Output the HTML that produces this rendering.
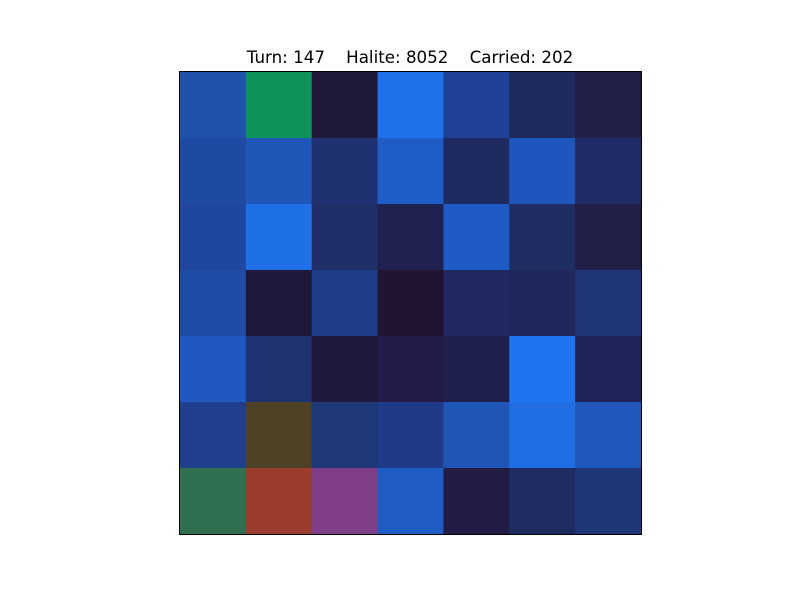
<!DOCTYPE html>
<html>
<head>
<meta charset="utf-8">
<style>
  html,body{margin:0;padding:0;background:#fff;}
  #wrap{position:relative;width:800px;height:600px;overflow:hidden;}
  #title{position:absolute;left:0;width:820px;top:47px;text-align:center;font-family:"DejaVu Sans","Liberation Sans",sans-serif;font-size:16.7px;color:#000;white-space:pre;}
</style>
</head>
<body>
<div id="wrap">
  <div id="title">Turn: 147    Halite: 8052    Carried: 202</div>
  <svg id="svg" width="800" height="600" style="position:absolute;left:0;top:0"></svg>
</div>
<script>
const row0 = ["#1f51ad","#10935a","#201838","#1f70eb","#1f4195","#1f2a5e","#201f48"];
const row1 = ["#1f4aa3","#1f57b8","#1f3170","#1f5dc6","#1f2a60","#1f56bd","#1f2c67"];
const row2 = ["#1f479f","#1f6fe6","#1f2e69","#1f2150","#1f5bc4","#1f2d63","#201f48"];
const row3 = ["#1f4ca6","#20183a","#1f3c88","#211432","#1f2860","#1f265a","#1f3577"];
const row4 = ["#1f58c0","#1f3373","#20183d","#201c47","#1f1f4e","#1f74f2","#1f2459"];
const row5 = ["#1f3f8d","#4f4126","#1f3878","#1f3b87","#1f56b6","#1f6ee4","#1f57bb"];
const row6 = ["#307050","#9a3d2c","#803d88","#1f5cc3","#201c44","#1f2b61","#1f3679"];
const rows = [row0,row1,row2,row3,row4,row5,row6];

const NS = "http://www.w3.org/2000/svg";
const svg = document.getElementById('svg');
const x0 = 180, y0 = 72, w = 461, h = 462;
const nCols = row0.length, nRows = rows.length;
function xScale(c){ return x0 + c * w / nCols; }
function yScale(r){ return y0 + r * h / nRows; }
rows.forEach((row, r) => {
  row.forEach((col, c) => {
    const rect = document.createElementNS(NS, 'rect');
    
    
    rect.setAttribute('x', xScale(c));
    rect.setAttribute('y', yScale(r));
    rect.setAttribute('width', xScale(c+1) - xScale(c) + 0.5);
    rect.setAttribute('height', yScale(r+1) - yScale(r) + 0.5);
    rect.setAttribute('fill', col);
    svg.appendChild(rect);
  });
});
const frame = document.createElementNS(NS, 'rect');


frame.setAttribute('x', x0 - 0.5);
frame.setAttribute('y', y0 - 0.5);
frame.setAttribute('width', w + 1);
frame.setAttribute('height', h + 1);
frame.setAttribute('fill', 'none');
frame.setAttribute('stroke', '#000');
frame.setAttribute('stroke-width', '1');
svg.appendChild(frame);
</script>
</body>
</html>
